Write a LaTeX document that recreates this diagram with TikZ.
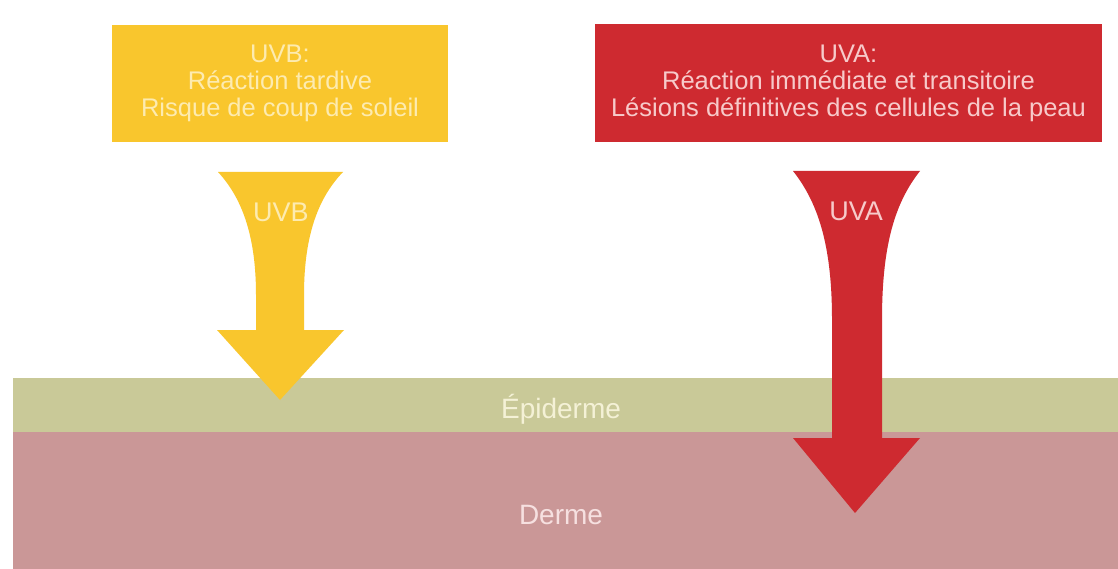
\documentclass[tikz,border=0pt]{standalone}
\usepackage{fontspec}
\setmainfont{Liberation Sans}
\usepackage{xcolor}
\usepackage{tikz}
\usetikzlibrary{positioning}

\definecolor{uvbyellow}{HTML}{F9C62D}
\definecolor{uvared}{HTML}{CE2A30}
\definecolor{epiolive}{HTML}{C9C998}
\definecolor{dermepink}{HTML}{CA9797}
\definecolor{uvbtext}{HTML}{FDEBB0}
\definecolor{uvatext}{HTML}{F7CACA}
\definecolor{epitext}{HTML}{F4F1D6}
\definecolor{dermetext}{HTML}{F6E0E0}

\begin{document}
\begin{tikzpicture}[
    x=1pt, y=-1pt,
    infobox/.style={rectangle, inner sep=0pt, text centered, align=center, font=\fontsize{25.5}{27}\selectfont},
    layer/.style={inner sep=0pt, font=\fontsize{28}{32}\selectfont},
    raylabel/.style={inner sep=0pt, font=\fontsize{27}{30}\selectfont}
]
\useasboundingbox[fill=white] (0,0) rectangle (1118,569);

% Skin layers
\fill[epiolive] (13,378) rectangle (1118,432);
\fill[dermepink] (13,432) rectangle (1118,569);
\node[layer, text=epitext] (epiderme) at (561,409) {Épiderme};
\node[layer, text=dermetext] (derme) at (561,515) {Derme};

% Info boxes
\node[infobox, fill=uvbyellow, text=uvbtext, minimum width=336pt, minimum height=117pt] (uvbbox) at (280,83.5) {UVB:\\Réaction tardive\\Risque de coup de soleil};
\node[infobox, fill=uvared, text=uvatext, minimum width=507pt, minimum height=118pt] (uvabox) at (848.5,83) {UVA:\\Réaction immédiate et transitoire\\Lésions définitives des cellules de la peau};

% Rays
\fill[uvbyellow] (218,172) -- (343,172) .. controls (316,200) and (304,240) .. (304,295) -- (304,330) -- (344,330) -- (280,400) -- (217,330) -- (256,330) -- (256,295) .. controls (256,240) and (244,200) .. (218,172) -- cycle;
\fill[uvared] (793,171) -- (920,171) .. controls (893,205) and (882,250) .. (882,320) -- (882,438) -- (920,438) -- (855,513) -- (793,438) -- (832,438) -- (832,320) .. controls (832,250) and (820,205) .. (793,171) -- cycle;
\node[raylabel, text=uvbtext] (uvb) at (281,212) {UVB};
\node[raylabel, text=uvatext] (uva) at (856,211) {UVA};

\end{tikzpicture}
\end{document}
